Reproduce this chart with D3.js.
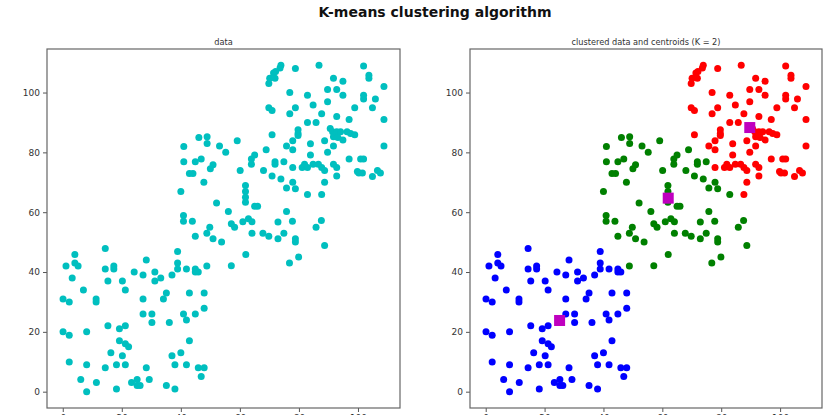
<!DOCTYPE html>
<html>
<head>
<meta charset="utf-8">
<script src="https://cdn.jsdelivr.net/npm/d3@7/dist/d3.min.js"></script>
<style>
  body { margin: 0; background: #fff; }
  text { font-family: "DejaVu Sans", sans-serif; }
</style>
</head>
<body>
<svg id="fig" width="831" height="415"></svg>
<script>
// points, grouped by the cluster they got on the right
const blueCluster = [
  [14.4,47.9],[4.1,45.9],[1.1,42.0],[4.1,43.0],[5.2,42.0],[14.4,41.0],[17.3,42.0],[17.3,41.0],
  [28.3,44.0],[38.9,46.9],[38.9,43.0],[38.9,41.0],[41.9,41.0],[44.9,41.0],[44.9,40.0],[45.9,40.0],
  [24.2,40.0],[27.2,39.0],[31.2,40.0],[31.2,37.0],[33.2,38.0],[37.0,39.0],[3.2,38.0],[15.3,37.0],
  [20.2,37.0],[21.2,34.0],[7.0,34.0],[0.1,31.0],[2.2,30.0],[11.3,31.0],[11.3,30.0],[27.2,31.0],
  [34.1,31.0],[35.1,33.0],[42.9,33.0],[47.9,33.0],[47.9,27.9],[44.9,26.0],[40.9,26.0],[41.9,24.0],
  [27.2,26.0],[30.2,26.0],[30.2,23.1],[36.1,23.1],[15.3,22.0],[19.2,21.0],[21.2,22.0],[0.1,20.0],
  [2.2,18.9],[8.1,20.0],[19.2,17.0],[21.2,16.0],[22.3,15.0],[16.3,13.0],[20.2,12.0],[42.9,17.0],
  [37.0,12.0],[40.0,13.0],[2.2,9.9],[8.1,9.0],[14.4,8.0],[18.2,9.0],[21.2,9.0],[28.3,8.0],
  [38.0,9.0],[41.9,9.0],[45.9,8.0],[47.9,8.0],[46.9,5.1],[6.1,4.1],[11.4,3.1],[8.1,0.0],
  [18.2,0.9],[23.3,3.1],[25.2,4.1],[25.2,2.1],[26.2,2.1],[29.3,4.1],[35.1,2.1],[38.0,0.9]
];
const greenCluster = [
  [46.1,85.0],[48.9,85.2],[48.9,83.0],[41.0,82.0],[41.0,76.9],[44.9,76.9],[46.9,77.8],[50.9,75.9],
  [50.0,74.5],[42.9,72.9],[44.1,72.9],[47.8,70.0],[40.0,66.9],[52.1,63.1],[40.9,58.9],[40.9,57.0],
  [43.9,57.0],[49.8,55.0],[44.9,52.0],[48.8,53.0],[50.9,51.1],[53.8,50.0],[48.8,42.0],
  [59.1,83.9],[53.1,82.1],[55.2,80.0],[68.9,80.9],[65.0,79.1],[63.9,77.8],[63.9,76.0],[71.9,76.9],
  [71.9,76.0],[74.9,76.9],[60.1,73.9],[68.0,73.9],[70.9,72.1],[73.9,71.1],[77.9,70.0],[75.8,68.1],
  [78.8,67.8],[82.9,65.9],[61.9,68.9],[61.9,66.9],[61.9,65.0],[61.9,63.3],[65.0,62.0],[66.0,62.0],
  [56.1,60.2],[75.8,60.2],[57.1,56.1],[58.2,55.0],[61.0,56.8],[62.9,57.8],[64.1,56.8],[64.1,53.0],
  [67.8,53.0],[69.8,52.0],[72.9,56.7],[72.9,51.1],[74.9,53.0],[77.8,57.0],[78.8,51.1],[78.8,50.0],
  [85.8,55.0],[87.6,57.2],[88.7,48.9],[76.8,43.0],[79.9,45.0],[62.0,45.9],[57.1,42.1]
];
const redCluster = [
  [73.9,109.1],[73.6,108.2],[72.1,107.0],[71.4,106.5],[70.1,104.8],[71.9,104.8],[69.8,103.0],[78.8,108.0],
  [86.8,109.1],[101.9,108.9],[103.7,105.8],[103.7,104.8],[91.7,104.8],[94.9,103.8],[108.8,102.0],[89.7,101.0],
  [92.8,101.0],[94.9,99.1],[101.9,99.1],[101.9,97.8],[105.9,97.8],[76.9,100.0],[82.9,99.1],[89.7,96.9],
  [84.8,95.8],[69.8,94.9],[70.9,94.0],[78.8,94.9],[76.9,92.9],[87.7,92.9],[98.9,94.9],[104.9,94.9],
  [92.8,92.0],[97.0,91.0],[108.8,91.0],[82.9,90.0],[85.8,90.0],[79.7,87.6],[79.7,86.3],[79.7,85.6],
  [90.6,88.0],[91.4,86.9],[92.8,86.9],[94.1,86.9],[96.3,86.9],[97.5,86.3],[98.9,85.9],[91.7,85.2],
  [93.2,85.0],[94.9,84.1],[70.9,85.9],[75.8,82.1],[77.9,83.9],[77.9,80.9],[83.9,82.9],[88.7,83.9],
  [91.7,82.1],[108.8,82.1],[89.7,80.0],[83.9,79.1],[77.9,74.9],[81.1,74.9],[81.9,76.0],[82.9,74.9],
  [84.8,76.0],[86.6,76.0],[87.7,74.9],[88.7,73.9],[91.7,76.0],[92.8,74.9],[97.0,77.8],[100.9,77.8],
  [101.9,77.8],[100.3,73.1],[101.5,73.1],[99.8,73.6],[104.9,71.9],[106.6,73.9],[107.6,73.1],
  [87.7,65.9],[88.7,70.0],[92.8,72.1]
];
const centroids = [[25.1,23.8],[62.0,64.7],[89.7,88.3]];
const tickValues = [0, 20, 40, 60, 80, 100];

const clusterColors = ['#0000ff', '#008000', '#ff0000'];
const dataColor = '#00bfbf';
const centroidColor = '#bf00bf';

const svg = d3.select('#fig');
const allPoints = blueCluster.concat(greenCluster, redCluster);

// matplotlib style 5% margin round the data
function padded(ext) {
  const m = (ext[1] - ext[0]) * 0.05;
  return [ext[0] - m, ext[1] + m];
}
const xDomain = padded(d3.extent(allPoints, d => d[0]));
const yDomain = padded(d3.extent(allPoints, d => d[1]));

svg.append('text')
  .attr('x', 435).attr('y', 16.5)
  .attr('text-anchor', 'middle')
  .attr('font-size', '14px').attr('font-weight', 'bold')
  .attr('fill', '#111')
  .text('K-means clustering algorithm');

function panel(left, width, title) {
  const top = 49, height = 359;
  const x = d3.scaleLinear().domain(xDomain).range([0, width]);
  const y = d3.scaleLinear().domain(yDomain).range([height, 0]);
  const g = svg.append('g').attr('transform', 'translate(' + left + ',' + top + ')');

  g.append('text')
    .attr('x', width / 2).attr('y', -4.5)
    .attr('text-anchor', 'middle')
    .attr('font-size', '8.2px').attr('fill', '#333')
    .text(title);

  const yAxis = g.append('g')
    .call(d3.axisLeft(y).tickValues(tickValues).tickSize(4).tickPadding(3));
  // x tick labels sit at the cut-off bottom edge of the picture
  const xAxis = g.append('g')
    .attr('transform', 'translate(0,' + height + ')')
    .call(d3.axisBottom(x).tickValues(tickValues).tickSize(4).tickPadding(3));
  [yAxis, xAxis].forEach(a => {
    a.select('.domain').remove();
    a.selectAll('line').attr('stroke', '#555');
    a.selectAll('text').attr('font-size', '9px').attr('fill', '#333')
      .attr('font-family', '"DejaVu Sans", sans-serif');
  });

  g.append('rect')
    .attr('width', width).attr('height', height)
    .attr('fill', 'none').attr('stroke', '#666').attr('stroke-width', 1.2);

  return { g: g, x: x, y: y };
}

// left: raw data
const p1 = panel(47, 353, 'data');
p1.g.selectAll('circle.pt')
  .data(allPoints)
  .enter()
    .append('circle')
      .attr('class', 'pt')
      .attr('cx', d => p1.x(d[0]))
      .attr('cy', d => p1.y(d[1]))
      .attr('r', 3.5)
      .attr('fill', dataColor);

// right: clusters + centroids
const p2 = panel(470, 352, 'clustered data and centroids (K = 2)');
[blueCluster, greenCluster, redCluster].forEach((pts, i) => {
  p2.g.append('g').selectAll('circle')
    .data(pts)
    .enter()
      .append('circle')
        .attr('cx', d => p2.x(d[0]))
        .attr('cy', d => p2.y(d[1]))
        .attr('r', 3.5)
        .attr('fill', clusterColors[i]);
});
const sq = 11;
p2.g.selectAll('rect.centroid')
  .data(centroids)
  .enter()
    .append('rect')
      .attr('class', 'centroid')
      .attr('x', d => p2.x(d[0]) - sq / 2)
      .attr('y', d => p2.y(d[1]) - sq / 2)
      .attr('width', sq).attr('height', sq)
      .attr('fill', centroidColor);
</script>
</body>
</html>
